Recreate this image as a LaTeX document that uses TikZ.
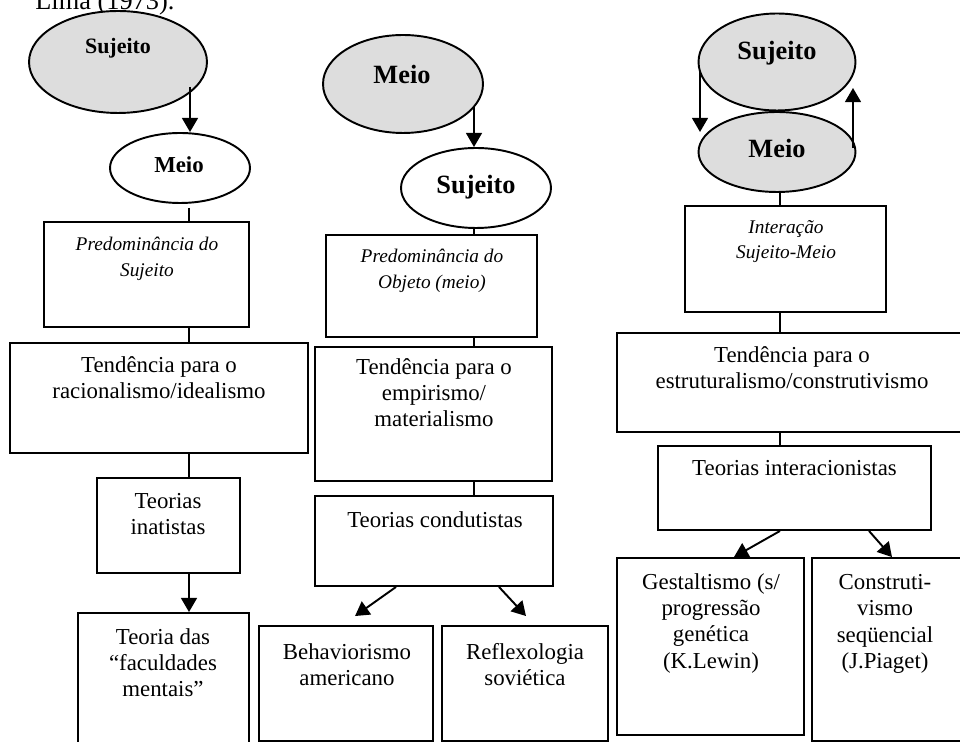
\documentclass[tikz,border=0pt]{standalone}
\usepackage{fontspec}
\setmainfont{Liberation Serif}
\usetikzlibrary{shapes.geometric,arrows.meta,calc,fit}
\definecolor{ellgray}{RGB}{221,221,221}
\begin{document}
\begin{tikzpicture}[x=0.02cm,y=-0.02cm,
  bx/.style={draw,line width=1.1pt,rectangle,inner sep=0pt},
  ell/.style={draw,line width=1.1pt,ellipse,inner sep=0pt},
  grayfill/.style={fill=ellgray},
  txt/.style={anchor=north,inner sep=0pt,align=center,font=\fontsize{13}{15}\selectfont},
  itx/.style={txt,font=\fontsize{11}{14.5}\selectfont\itshape},
  bsmall/.style={anchor=north,inner sep=0pt,font=\fontsize{12.5}{15}\selectfont\bfseries},
  bmid/.style={anchor=north,inner sep=0pt,font=\fontsize{13}{15}\selectfont\bfseries},
  bbig/.style={anchor=north,inner sep=0pt,font=\fontsize{15}{18}\selectfont\bfseries},
  conn/.style={line width=1.1pt},
  arr/.style={conn,-{Triangle[width=9pt,length=8pt]}}
]
\useasboundingbox (0,0) rectangle (960,742);
\clip (0,0) rectangle (960,742);

% heading fragment
\node[anchor=base west,inner sep=0pt,font=\fontsize{15}{18}\selectfont] (lima) at (35,10) {Lima (1973).};

% alignment coordinates
\coordinate (x1) at (189,0);
\coordinate (x2) at (474,0);
\coordinate (x3) at (780,0);

% ---------- column 1 ----------
\node[ell,grayfill,minimum width=3.56cm,minimum height=2.04cm] (e1) at (118,62) {};
\node[bsmall] (s1) at (118,38) {Sujeito};
\node[ell,minimum width=2.8cm,minimum height=1.4cm] (e2) at (180,168) {};
\node[bmid] (m1) at (179,156) {Meio};
\node[bx,fit={(44,222)(249,327)}] (b1) {};
\node[itx] (tb1) at (147,237) {Predominância do\\Sujeito};
\node[bx,fit={(10,343)(308,453)}] (b2) {};
\node[txt] (tb2) at (159,356) {Tendência para o\\racionalismo/idealismo};
\node[bx,fit={(97,478)(240,573)}] (b3) {};
\node[txt] (tb3) at (168,493) {Teorias\\inatistas};
\node[bx,fit={(78,613)(249,770)}] (b4) {};
\node[txt] (tb4) at (163,628) {Teoria das\\“faculdades\\mentais”};

% ---------- column 2 ----------
\node[ell,grayfill,minimum width=3.2cm,minimum height=1.96cm] (e3) at (403,84) {};
\node[bbig] (m2) at (402,65) {Meio};
\node[ell,minimum width=3.0cm,minimum height=1.6cm] (e4) at (476,188) {};
\node[bbig] (s2) at (476,175) {Sujeito};
\node[bx,fit={(326,235)(537,337)}] (b5) {};
\node[itx] (tb5) at (432,249) {Predominância do\\Objeto (meio)};
\node[bx,fit={(315,347)(552,481)}] (b6) {};
\node[txt] (tb6) at (434,358) {Tendência para o\\empirismo/\\materialismo};
\node[bx,fit={(315,496)(553,586)}] (b7) {};
\node[txt] (tb7) at (435,511) {Teorias condutistas};
\node[bx,fit={(259,626)(433,741)}] (b8) {};
\node[txt] (tb8) at (347,643) {Behaviorismo\\americano};
\node[bx,fit={(442,626)(608,741)}] (b9) {};
\node[txt] (tb9) at (525,643) {Reflexologia\\soviética};

% ---------- column 3 ----------
\node[ell,grayfill,minimum width=3.14cm,minimum height=1.94cm] (e5) at (777,62) {};
\node[bbig] (s3) at (777,41) {Sujeito};
\node[ell,grayfill,minimum width=3.14cm,minimum height=1.6cm] (e6) at (777,152) {};
\node[bbig] (m3) at (777,139) {Meio};
\node[bx,fit={(685,206)(886,312)}] (b10) {};
\node[itx] (tb10) at (786,220) {Interação\\Sujeito-Meio};
\node[bx,fit={(617,333)(967,432)}] (b11) {};
\node[txt] (tb11) at (792,346) {Tendência para o\\estruturalismo/construtivismo};
\node[bx,fit={(658,446)(931,530)}] (b12) {};
\node[txt] (tb12) at (794.5,460) {Teorias interacionistas};
\node[bx,fit={(617,558)(804,735)}] (b13) {};
\node[txt] (tb13) at (711,573) {Gestaltismo (s/\\progressão\\genética\\(K.Lewin)};
\node[bx,fit={(812,558)(975,741)}] (b14) {};
\node[txt] (tb14) at (885,574) {Construti-\\vismo\\seqüencial\\(J.Piaget)};

% ---------- connectors column 1 ----------
\coordinate (a1s) at ($(e1.center)+(72,25)$);
\draw[arr] (a1s) -- (a1s |- e2.north);
\draw[conn] ($(x1 |- e2.south)+(0,4)$) -- (x1 |- b1.north);
\draw[conn] (x1 |- b1.south) -- (x1 |- b2.north);
\draw[conn] (x1 |- b2.south) -- (x1 |- b3.north);
\draw[arr] (x1 |- b3.south) -- (x1 |- b4.north);

% ---------- connectors column 2 ----------
\coordinate (a3s) at ($(e3.center)+(71,23)$);
\draw[arr] (a3s) -- (a3s |- e4.north);
\draw[conn] (x2 |- e4.south) -- (x2 |- b5.north);
\draw[conn] (x2 |- b5.south) -- (x2 |- b6.north);
\draw[conn] (x2 |- b6.south) -- (x2 |- b7.north);
\draw[arr] ($(b7.south)+(-38,0)$) -- ($(b8.north)+(9,-9)$);
\draw[arr] ($(b7.south)+(65,0)$) -- ($(b9.north)+(1,-9)$);

% ---------- connectors column 3 ----------
\draw[arr] ($(e5.center)+(-77,10)$) -- ($(e6.center)+(-77,-20)$);
\draw[arr] ($(e6.center)+(76,-4)$) -- ($(e5.center)+(76,26)$);
\draw[conn] (x3 |- e6.south) -- (x3 |- b10.north);
\draw[conn] (x3 |- b10.south) -- (x3 |- b11.north);
\draw[conn] (x3 |- b11.south) -- (x3 |- b12.north);
\draw[arr] ($(b12.south)+(-14.5,0)$) -- ($(b13.north)+(23.5,0)$);
\draw[arr] ($(b12.south)+(74.5,0)$) -- ($(b14.north)+(-1.5,0)$);
\end{tikzpicture}
\end{document}
